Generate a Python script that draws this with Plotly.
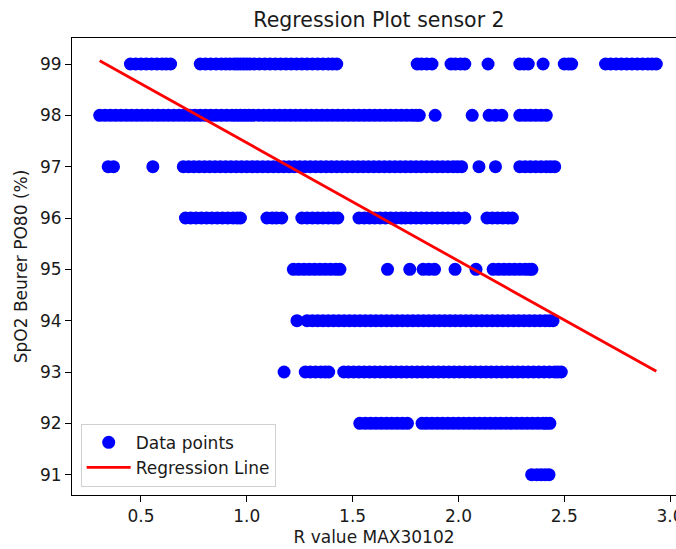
import plotly.graph_objects as go

# ---- data ----
spo2_levels = [99, 98, 97, 96, 95, 94, 93, 92, 91]

r_at_99 = [0.45, 0.475, 0.50, 0.525, 0.55, 0.575, 0.60, 0.62, 0.64,
           0.78, 0.805, 0.83, 0.855, 0.88, 0.90, 0.92, 0.94, 0.955, 0.97, 0.985, 1.00,
           1.015, 1.035, 1.06, 1.085, 1.11, 1.135, 1.16, 1.185, 1.21, 1.235, 1.26,
           1.285, 1.31, 1.335, 1.36, 1.385, 1.405, 1.425,
           1.805, 1.825, 1.85, 1.875, 1.965, 1.985, 2.01, 2.03, 2.14,
           2.29, 2.31, 2.33, 2.40, 2.50, 2.52, 2.535,
           2.695, 2.72, 2.745, 2.77, 2.795, 2.82, 2.845, 2.87, 2.895, 2.915, 2.935]
r_at_98 = [0.305, 0.33, 0.355, 0.38, 0.405, 0.43, 0.455, 0.48, 0.505, 0.53, 0.555,
           0.58, 0.605, 0.63, 0.655, 0.68, 0.705, 0.73, 0.755, 0.78, 0.805, 0.83,
           0.855, 0.88, 0.905, 0.93, 0.95, 0.97, 0.99, 1.01, 1.03, 1.055, 1.08, 1.105,
           1.13, 1.155, 1.18, 1.205, 1.23, 1.255, 1.28, 1.305, 1.33, 1.355, 1.38,
           1.405, 1.43, 1.455, 1.48, 1.505, 1.53, 1.555, 1.58, 1.605, 1.63, 1.655,
           1.68, 1.705, 1.73, 1.755, 1.78, 1.80, 1.815,
           1.89, 2.065, 2.145, 2.175, 2.205,
           2.29, 2.315, 2.34, 2.365, 2.39, 2.415]
r_at_97 = [0.345, 0.37, 0.556,
           0.70, 0.725, 0.75, 0.775, 0.80, 0.825, 0.85, 0.875, 0.90, 0.925, 0.95,
           0.975, 1.00, 1.025, 1.05, 1.075, 1.10, 1.125, 1.15, 1.175, 1.20, 1.225,
           1.25, 1.275, 1.30, 1.325, 1.35, 1.375, 1.40, 1.425, 1.45, 1.475, 1.50,
           1.525, 1.55, 1.575, 1.60, 1.625, 1.65, 1.675, 1.70, 1.725, 1.75, 1.775,
           1.80, 1.825, 1.85, 1.875, 1.90, 1.925, 1.95, 1.975, 1.995, 2.015,
           2.097, 2.175,
           2.29, 2.315, 2.34, 2.365, 2.39, 2.415, 2.435, 2.455]
r_at_96 = [0.71, 0.735, 0.76, 0.785, 0.81, 0.835, 0.86, 0.885, 0.91, 0.935, 0.955, 0.97,
           1.095, 1.12, 1.14, 1.165,
           1.26, 1.285, 1.31, 1.335, 1.36, 1.385, 1.41, 1.43,
           1.53, 1.555, 1.58, 1.605, 1.63, 1.655, 1.68, 1.705, 1.73, 1.75, 1.775,
           1.80, 1.825, 1.85, 1.875, 1.90, 1.925, 1.95, 1.975, 2.00, 2.03,
           2.135, 2.16, 2.185, 2.21, 2.235, 2.255]
r_at_95 = [1.22, 1.245, 1.27, 1.295, 1.32, 1.345, 1.37, 1.395, 1.42, 1.44,
           1.665, 1.77, 1.833, 1.86, 1.887, 1.984, 2.083,
           2.164, 2.19, 2.215, 2.24, 2.265, 2.29, 2.315, 2.335, 2.347]
r_at_94 = [1.237, 1.285, 1.31, 1.335, 1.36, 1.385, 1.41, 1.435, 1.46, 1.485, 1.51,
           1.535, 1.56, 1.585, 1.61, 1.635, 1.66, 1.685, 1.71, 1.735, 1.76, 1.785,
           1.81, 1.835, 1.86, 1.885, 1.91, 1.935, 1.96, 1.985, 2.01, 2.035, 2.06,
           2.085, 2.11, 2.135, 2.16, 2.185, 2.21, 2.235, 2.26, 2.285, 2.31, 2.335,
           2.36, 2.385, 2.41, 2.43, 2.447]
r_at_93 = [1.176,
           1.276, 1.30, 1.325, 1.35, 1.37, 1.387,
           1.458, 1.48, 1.505, 1.53, 1.555, 1.58, 1.605, 1.63, 1.655, 1.68, 1.705,
           1.73, 1.755, 1.78, 1.805, 1.83, 1.855, 1.88, 1.905, 1.93, 1.955, 1.98,
           2.005, 2.03, 2.055, 2.08, 2.105, 2.13, 2.155, 2.18, 2.205, 2.23, 2.255,
           2.28, 2.305, 2.33, 2.355, 2.38, 2.405, 2.43, 2.455, 2.47, 2.486]
r_at_92 = [1.534, 1.56, 1.585, 1.61, 1.635, 1.66, 1.685, 1.71, 1.735, 1.759,
           1.828, 1.85, 1.875, 1.90, 1.925, 1.95, 1.975, 2.00, 2.025, 2.05, 2.075,
           2.10, 2.125, 2.15, 2.175, 2.20, 2.225, 2.25, 2.275, 2.30, 2.325, 2.35,
           2.375, 2.40, 2.415, 2.432]
r_at_91 = [2.346, 2.37, 2.39, 2.41, 2.428]

reg_slope = -2.30
reg_intercept = 99.765

x_ticks = [0.5, 1.0, 1.5, 2.0, 2.5, 3.0]
x_tick_labels = ["0.5", "1.0", "1.5", "2.0", "2.5", "3.0"]
y_ticks = [91, 92, 93, 94, 95, 96, 97, 98, 99]
y_tick_labels = ["91", "92", "93", "94", "95", "96", "97", "98", "99"]

# ---- assemble ----
per_level = [r_at_99, r_at_98, r_at_97, r_at_96, r_at_95, r_at_94, r_at_93, r_at_92, r_at_91]
xs, ys = [], []
for lvl, vals in zip(spo2_levels, per_level):
    xs.extend(vals)
    ys.extend([lvl] * len(vals))

x_min, x_max = min(xs), max(xs)
line_x = [x_min, x_max]
line_y = [reg_intercept + reg_slope * v for v in line_x]

FONT = "DejaVu Sans"
TXT = "#1a1a1a"

fig = go.Figure()
fig.add_trace(go.Scatter(
    x=xs, y=ys, mode="markers", name="Data points",
    marker=dict(color="#0000ff", size=13, line=dict(width=0)),
))
fig.add_trace(go.Scatter(
    x=line_x, y=line_y, mode="lines", name="Regression Line",
    line=dict(color="#ff0000", width=2.8),
))

fig.update_layout(
    width=676, height=549,
    margin=dict(l=72, r=0, t=38, b=54, autoexpand=False),
    paper_bgcolor="white", plot_bgcolor="white",
    font=dict(family=FONT, size=17, color=TXT),
    title=dict(text="Regression Plot sensor 2", xref="container", x=379 / 676,
               xanchor="center", yref="container", y=1 - 20 / 549, yanchor="middle",
               font=dict(family=FONT, size=20.5, color=TXT)),
    showlegend=True,
    legend=dict(x=0.0144, y=0.018, xanchor="left", yanchor="bottom",
                bgcolor="white", bordercolor="#d0d0d0", borderwidth=1,
                font=dict(family=FONT, size=17, color=TXT),
                itemsizing="trace", itemwidth=44, tracegroupgap=0),
)
fig.update_xaxes(
    range=[0.174, 3.028], tickvals=x_ticks, ticktext=x_tick_labels,
    showgrid=False, zeroline=False, showline=True, linecolor="black", linewidth=1,
    mirror=True, ticks="outside", ticklen=6, tickcolor="black",
    ticklabeloverflow="allow", automargin=False,
    tickfont=dict(family=FONT, size=17, color=TXT),
    title=dict(text="R value MAX30102", font=dict(family=FONT, size=17, color=TXT), standoff=5),
)
fig.update_yaxes(
    range=[90.604, 99.507], tickvals=y_ticks, ticktext=y_tick_labels,
    showgrid=False, zeroline=False, showline=True, linecolor="black", linewidth=1,
    mirror=False, ticks="outside", ticklen=6, tickcolor="black", automargin=False,
    tickfont=dict(family=FONT, size=17, color=TXT),
    title=dict(text="SpO2 Beurer PO80 (%)", font=dict(family=FONT, size=17, color=TXT), standoff=8),
)

fig.write_html("out.html", config={"displayModeBar": False})
